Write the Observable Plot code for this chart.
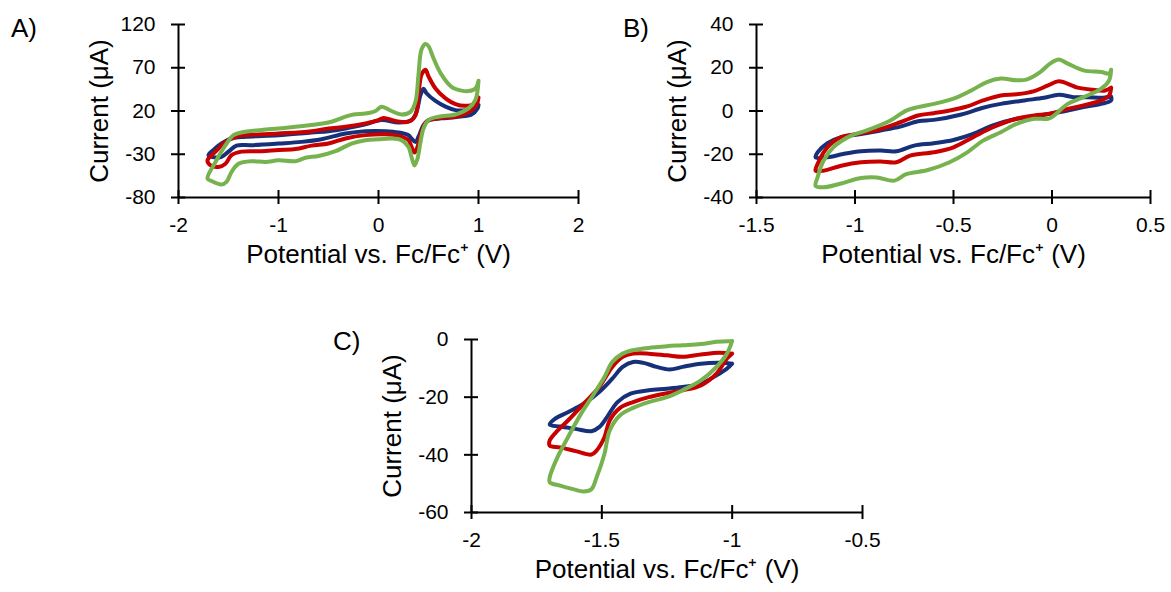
<!DOCTYPE html>
<html>
<head>
<meta charset="utf-8">
<script src="https://cdn.jsdelivr.net/npm/d3@7"></script>
<script src="https://cdn.jsdelivr.net/npm/@observablehq/plot@0.6"></script>
<style>
  html, body { margin: 0; padding: 0; background: #fff; }
  #wrap { position: relative; width: 1171px; height: 592px; overflow: hidden; background: #fff;
          font-family: "Liberation Sans", Arial, sans-serif; color: #000; }
  .panel { position: absolute; }
  .tag { position: absolute; font-size: 26px; line-height: 1; }
</style>
</head>
<body>
<div id="wrap"></div>
<script>
// ---------- Data (E in V vs Fc/Fc+, I in µA) ----------
const xLabel = "Potential vs. Fc/Fc\u207A (V)";
const yLabel = "Current (\u03BCA)";
const seriesNames = ["trace 1", "trace 2", "trace 3"];
const seriesColors = ["#17307A", "#C80000", "#76B24E"];

// Panel A
const aXTicks = [-2, -1, 0, 1, 2];
const aYTicks = [-80, -30, 20, 70, 120];
const aBlue = [[1.0,27],[0.97,23],[0.87,21],[0.77,21],[0.67,25],[0.57,31.6],[0.48,40.5],[0.45,45.6],[0.42,38.6],[0.38,19],[0.33,9.5],[0.2,6.8],[0.03,9.5],[-0.13,4.5],[-0.33,-0.2],[-0.5,-3.3],[-0.67,-4.8],[-1.0,-8],[-1.33,-9.8],[-1.47,-11.8],[-1.57,-17.6],[-1.65,-25],[-1.7,-31],[-1.67,-33],[-1.57,-33],[-1.5,-27],[-1.42,-20],[-1.27,-19.5],[-1.0,-17.6],[-0.77,-15.7],[-0.57,-12.6],[-0.33,-6],[-0.13,-3.3],[0.07,-3.3],[0.2,-4.8],[0.3,-8],[0.33,-11.8],[0.37,-15.7],[0.4,-9.8],[0.45,3.7],[0.5,9.5],[0.63,11.5],[0.8,13.4],[0.93,16],[0.99,23],[1.0,27]];
const aRed = [[1.0,35.5],[0.97,29],[0.87,26],[0.77,28],[0.67,34.7],[0.57,46],[0.50,60],[0.47,67.7],[0.43,62],[0.40,38.6],[0.37,15],[0.30,7.6],[0.17,8.4],[0.05,12],[0.0,9.5],[-0.13,5.7],[-0.33,1.8],[-0.5,-0.2],[-0.67,-3.3],[-1.0,-6],[-1.33,-8],[-1.43,-9.8],[-1.53,-15.7],[-1.63,-27],[-1.71,-37],[-1.68,-42.8],[-1.6,-44.7],[-1.53,-41],[-1.47,-31],[-1.37,-27],[-1.17,-26.5],[-1.0,-25],[-0.83,-24],[-0.67,-20],[-0.5,-17.6],[-0.33,-11.8],[-0.13,-7.9],[0.07,-7],[0.2,-8.7],[0.3,-13.7],[0.33,-21.5],[0.36,-28],[0.39,-21.5],[0.43,-4],[0.48,7.6],[0.6,11.5],[0.77,13.4],[0.9,18.4],[0.98,27],[1.0,35.5]];
const aGreen = [[1.0,55],[0.97,46],[0.90,43],[0.83,43.6],[0.73,48],[0.63,62],[0.55,81],[0.50,95],[0.47,97.5],[0.43,91],[0.40,62],[0.37,31],[0.32,19],[0.23,16],[0.13,20],[0.03,25],[-0.03,20],[-0.13,17],[-0.25,16],[-0.33,13.4],[-0.47,7.6],[-0.67,3.7],[-0.83,1.8],[-1.0,-0.2],[-1.17,-2],[-1.37,-4.8],[-1.45,-8],[-1.53,-19.5],[-1.63,-39],[-1.71,-58],[-1.67,-61],[-1.57,-65],[-1.52,-62],[-1.47,-50.5],[-1.40,-41],[-1.27,-38],[-1.13,-39],[-1.0,-37],[-0.83,-38],[-0.73,-34],[-0.6,-32],[-0.43,-26.5],[-0.27,-17.6],[-0.13,-13.7],[0.0,-12.6],[0.13,-11.8],[0.23,-13.7],[0.30,-21.5],[0.33,-33],[0.36,-43],[0.39,-35],[0.42,-15.7],[0.45,-0.2],[0.5,9.5],[0.6,13.4],[0.77,16],[0.9,23],[0.97,33],[1.0,55]];

// Panel B
const bXTicks = [-1.5, -1, -0.5, 0, 0.5];
const bYTicks = [-40, -20, 0, 20, 40];
const bBlue = [[0.3,6.7],[0.26,6.1],[0.18,6.4],[0.11,6.4],[0.035,7.5],[-0.04,6.1],[-0.14,4.9],[-0.26,3.3],[-0.35,1.5],[-0.46,-1.6],[-0.6,-4.1],[-0.68,-4.7],[-0.77,-7.2],[-0.87,-9],[-0.97,-10.6],[-1.07,-12.1],[-1.14,-14.9],[-1.19,-19.1],[-1.2,-21.4],[-1.14,-21.4],[-1.06,-19.9],[-0.97,-18.6],[-0.87,-18.3],[-0.79,-18.6],[-0.7,-16],[-0.6,-14.9],[-0.5,-13.4],[-0.4,-10.6],[-0.3,-6.7],[-0.18,-3.6],[-0.09,-2.5],[-0.01,-1.3],[0.08,0.2],[0.16,1.8],[0.25,3.3],[0.3,4.9],[0.3,6.7]];
const bRed = [[0.3,10.8],[0.27,9.5],[0.21,9.8],[0.13,10.8],[0.035,13.7],[-0.02,11.8],[-0.09,9.2],[-0.18,7.7],[-0.26,7.2],[-0.35,4.9],[-0.43,2.1],[-0.52,0.2],[-0.6,-1],[-0.68,-2.1],[-0.77,-5.2],[-0.87,-8.3],[-0.97,-10.3],[-1.07,-12.1],[-1.14,-16.8],[-1.19,-24.5],[-1.2,-27.6],[-1.16,-27.6],[-1.07,-25.3],[-0.97,-23.7],[-0.87,-23.3],[-0.79,-23.7],[-0.72,-20.6],[-0.6,-19.1],[-0.5,-16.8],[-0.4,-12.1],[-0.3,-7.5],[-0.18,-3.6],[-0.09,-2.1],[-0.01,-1.3],[0.08,1],[0.16,2.6],[0.25,4.9],[0.29,7.2],[0.3,10.8]];
const bGreen = [[0.3,19.1],[0.29,17.3],[0.25,18],[0.16,18.8],[0.08,21.9],[0.035,23.8],[-0.01,21.9],[-0.06,18],[-0.13,14.5],[-0.18,14.2],[-0.26,15],[-0.33,13.4],[-0.41,9.5],[-0.5,5.7],[-0.6,3.3],[-0.68,1.8],[-0.74,0.2],[-0.82,-4.4],[-0.94,-9],[-1.02,-11.4],[-1.11,-16.8],[-1.16,-23],[-1.19,-30.7],[-1.2,-34.6],[-1.16,-35.3],[-1.07,-33.5],[-0.97,-31],[-0.89,-30.7],[-0.8,-32.2],[-0.74,-29.2],[-0.63,-27.3],[-0.52,-23.7],[-0.43,-19.1],[-0.35,-13.7],[-0.26,-9.8],[-0.18,-6],[-0.09,-3.6],[-0.02,-3.6],[0.01,-2.1],[0.08,3.3],[0.16,6.4],[0.25,10.3],[0.29,14.2],[0.3,19.1]];

// Panel C
const cXTicks = [-2, -1.5, -1, -0.5];
const cYTicks = [-60, -40, -20, 0];
const cBlue = [[-1.0,-8.4],[-1.05,-8.1],[-1.12,-8.4],[-1.19,-9.5],[-1.24,-10.4],[-1.29,-9.5],[-1.34,-8.1],[-1.38,-7.8],[-1.42,-9.5],[-1.46,-13.6],[-1.51,-18.2],[-1.57,-22.3],[-1.63,-25.2],[-1.68,-27.5],[-1.7,-29.5],[-1.66,-30.2],[-1.6,-31],[-1.54,-31.8],[-1.51,-30.4],[-1.48,-26.9],[-1.44,-21.7],[-1.39,-18.8],[-1.32,-17.6],[-1.25,-17.1],[-1.19,-16.5],[-1.12,-15.3],[-1.06,-12.4],[-1.02,-10.1],[-1.0,-8.4]];
const cRed = [[-1.0,-4.9],[-1.05,-4.6],[-1.12,-5.2],[-1.19,-6],[-1.25,-5.5],[-1.32,-4.9],[-1.38,-4.9],[-1.42,-6],[-1.46,-9.5],[-1.51,-16.5],[-1.57,-22.3],[-1.63,-28.1],[-1.67,-31.6],[-1.7,-35],[-1.7,-36.8],[-1.66,-37.4],[-1.6,-38.7],[-1.54,-39.9],[-1.52,-38.5],[-1.49,-33.9],[-1.47,-28.1],[-1.43,-23.7],[-1.38,-21.7],[-1.32,-20],[-1.25,-18.6],[-1.19,-17.6],[-1.12,-15.9],[-1.06,-11.8],[-1.02,-6.6],[-1.0,-4.9]];
const cGreen = [[-1.0,-0.5],[-1.06,-0.8],[-1.12,-1.6],[-1.19,-2],[-1.25,-2.3],[-1.31,-2.8],[-1.38,-3.7],[-1.42,-4.9],[-1.46,-7.8],[-1.49,-13],[-1.53,-18.8],[-1.58,-25.8],[-1.63,-33.9],[-1.67,-40.8],[-1.70,-47.8],[-1.7,-49.5],[-1.66,-50.7],[-1.61,-51.9],[-1.57,-52.7],[-1.54,-51.9],[-1.52,-47.8],[-1.49,-39.7],[-1.47,-31.6],[-1.43,-26.3],[-1.38,-23.7],[-1.32,-21.7],[-1.25,-20],[-1.19,-17.6],[-1.12,-14.2],[-1.06,-9.5],[-1.02,-4.9],[-1.0,-0.5]];

// ---------- Drawing ----------
const fmt = d => String(d);

function table(curves) {
  const rows = [];
  curves.forEach((c, i) => c.forEach(([E, I]) => rows.push({series: seriesNames[i], E, I})));
  return rows;
}

function panel({curves, xTicks, yTicks, width, height, mL, mR, mT, mB}) {
  const xDom = [xTicks[0], xTicks[xTicks.length - 1]];
  const yDom = [yTicks[0], yTicks[yTicks.length - 1]];
  return Plot.plot({
    width, height,
    marginLeft: mL, marginRight: mR, marginTop: mT, marginBottom: mB,
    x: {domain: xDom, axis: null},
    y: {domain: yDom, axis: null},
    color: {type: "ordinal", domain: seriesNames, range: seriesColors},
    style: {fontFamily: "'Liberation Sans', Arial, sans-serif", color: "#000", background: "transparent", overflow: "visible"},
    marks: [
      Plot.line(table(curves), {x: "E", y: "I", z: "series", stroke: "series",
        strokeWidth: 4, curve: "catmull-rom", strokeLinejoin: "round", strokeLinecap: "round"}),
      Plot.ruleX([xDom[0]], {stroke: "#000", strokeWidth: 2}),
      Plot.ruleY([yDom[0]], {stroke: "#000", strokeWidth: 2}),
      Plot.axisY({ticks: yTicks, tickSize: 14, dx: 7, fill: "none", stroke: "#000", strokeWidth: 2, label: null}),
      Plot.axisY({ticks: yTicks, tickSize: 0, tickPadding: 23, tickFormat: fmt, fontSize: 21, fill: "#000", label: null}),
      Plot.axisX({ticks: xTicks, tickSize: 14, dy: -7, fill: "none", stroke: "#000", strokeWidth: 2, label: null}),
      Plot.axisX({ticks: xTicks, tickSize: 0, tickPadding: 20, tickFormat: fmt, fontSize: 21, fill: "#000", label: null}),
      Plot.text([xLabel], {frameAnchor: "bottom", dy: 65, fontSize: 26, fill: "#000", textAnchor: "middle"}),
      Plot.text([yLabel], {frameAnchor: "left", dx: -79, rotate: -90, fontSize: 26, fill: "#000", textAnchor: "middle"})
    ]
  });
}

const wrap = document.getElementById("wrap");
function place(el, left, top) {
  el.classList.add("panel");
  el.style.left = left + "px";
  el.style.top = top + "px";
  wrap.appendChild(el);
}
function tag(t, left, top) {
  const d = document.createElement("div");
  d.className = "tag";
  d.textContent = t;
  d.style.left = left + "px";
  d.style.top = top + "px";
  wrap.appendChild(d);
}

place(panel({curves: [aBlue, aRed, aGreen], xTicks: aXTicks, yTicks: aYTicks,
  width: 600, height: 300, mL: 178, mR: 22, mT: 24, mB: 103}), 0, 0);
place(panel({curves: [bBlue, bRed, bGreen], xTicks: bXTicks, yTicks: bYTicks,
  width: 571, height: 300, mL: 156, mR: 21, mT: 24, mB: 103}), 600, 0);
place(panel({curves: [cBlue, cRed, cGreen], xTicks: cXTicks, yTicks: cYTicks,
  width: 600, height: 277, mL: 171, mR: 38, mT: 24, mB: 80}), 300, 315);

tag("A)", 11, 15);
tag("B)", 623, 15);
tag("C)", 333, 328);
</script>
</body>
</html>
